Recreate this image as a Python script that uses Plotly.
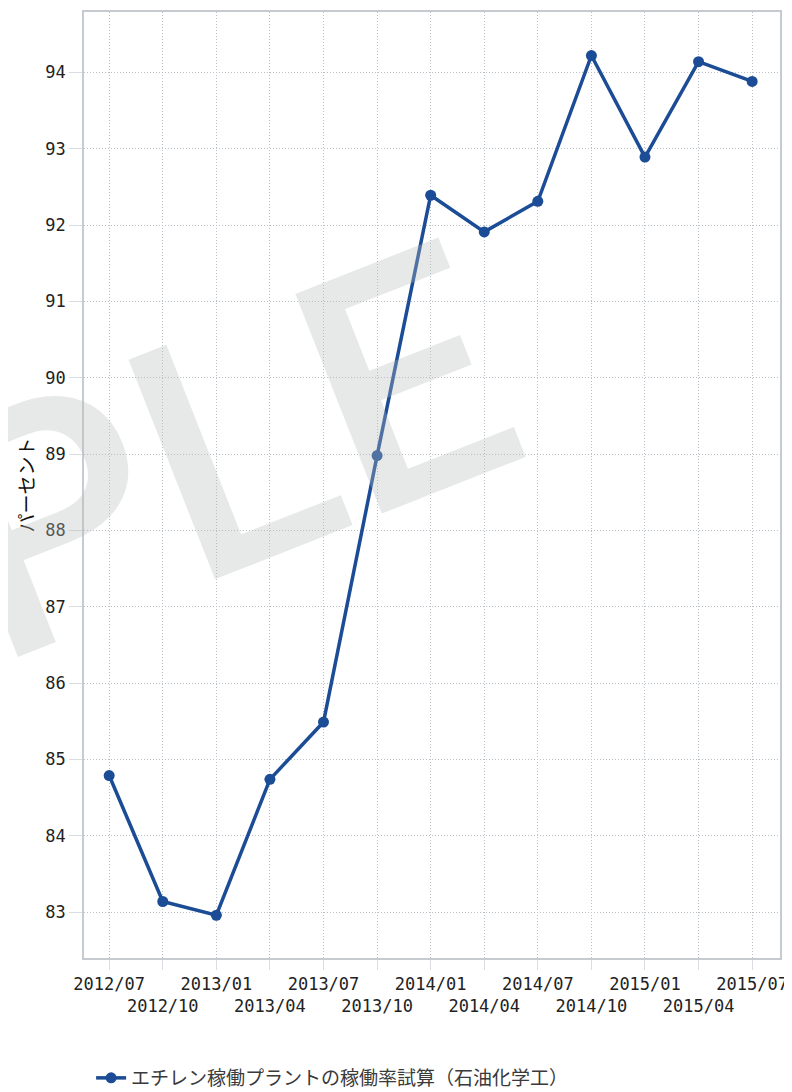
import plotly.graph_objects as go

# ---- data ----
periods = ["2012/07", "2012/10", "2013/01", "2013/04", "2013/07", "2013/10",
           "2014/01", "2014/04", "2014/07", "2014/10", "2015/01", "2015/04", "2015/07"]
rates = [84.79, 83.14, 82.96, 84.74, 85.49, 88.98,
         92.39, 91.91, 92.31, 94.22, 92.89, 94.14, 93.88]
series_name = "エチレン稼働プラントの稼働率試算（石油化学工）"
y_title = "パーセント"
y_ticks = list(range(83, 95))
watermark = "SAMPLE"

# alternating two-row tick labels
tick_text = [p if i % 2 == 0 else "<br>" + p for i, p in enumerate(periods)]

# page has an 8px body margin, so the figure is slightly smaller than the window
OFF = 8
W, H = 784, 1084
L, R, T, B = 76, 12, 4, 134
pw, ph = W - L - R, H - T - B

def px_to_paper(x, y):
    # x, y in page pixels
    return (x - OFF - L) / pw, (H - B - (y - OFF)) / ph

line_color = "#1b4c95"
grid_color = "#b9c0c7"
frame_color = "#c6cbd1"
tick_font = dict(family="DejaVu Sans Mono", size=17, color="#222222")

fig = go.Figure()
fig.add_trace(go.Scatter(
    x=periods, y=rates, name=series_name, mode="lines+markers",
    line=dict(color=line_color, width=3.5),
    marker=dict(color=line_color, size=11, symbol="circle"),
))

wx, wy = px_to_paper(-108, 584)
fig.add_annotation(
    text=watermark, xref="paper", yref="paper", x=wx, y=wy,
    xanchor="center", yanchor="middle", showarrow=False, textangle=-21.5,
    font=dict(family="Roboto", size=332, weight=500, color="rgba(185,188,188,0.34)"),
)

fig.update_layout(
    width=W, height=H,
    margin=dict(l=L, r=R, t=T, b=B, autoexpand=False),
    paper_bgcolor="white", plot_bgcolor="white",
    showlegend=True,
    legend=dict(orientation="h", xref="container", yref="container",
                x=0.106, xanchor="left", y=0.0129, yanchor="middle",
                font=dict(family="Noto Sans CJK JP", size=19, color="#3a3a3a"),
                bgcolor="rgba(0,0,0,0)", itemwidth=30),
    font=dict(family="Noto Sans CJK JP"),
)
fig.update_xaxes(
    type="category", range=[-0.47, 12.52],
    tickmode="array", tickvals=periods, ticktext=tick_text,
    tickfont=tick_font, tickangle=0,
    showgrid=True, gridcolor=grid_color, griddash="1px,2px", gridwidth=1,
    ticks="outside", ticklen=10, tickcolor="#d9dde1", tickwidth=1,
    showline=True, linecolor=frame_color, linewidth=1.5, mirror=True,
    zeroline=False, fixedrange=True,
)
fig.update_yaxes(
    range=[82.40, 94.79],
    tickmode="array", tickvals=y_ticks, ticktext=[str(v) for v in y_ticks],
    tickfont=tick_font,
    showgrid=True, gridcolor=grid_color, griddash="1px,2px", gridwidth=1,
    ticks="outside", ticklen=13, tickcolor="#d9dde1", tickwidth=1,
    showline=True, linecolor=frame_color, linewidth=1.5, mirror=True,
    zeroline=False,
    title=dict(text=y_title, font=dict(family="Noto Sans CJK JP", size=19, color="#111111"),
               standoff=6),
)

fig.write_html("out.html")
